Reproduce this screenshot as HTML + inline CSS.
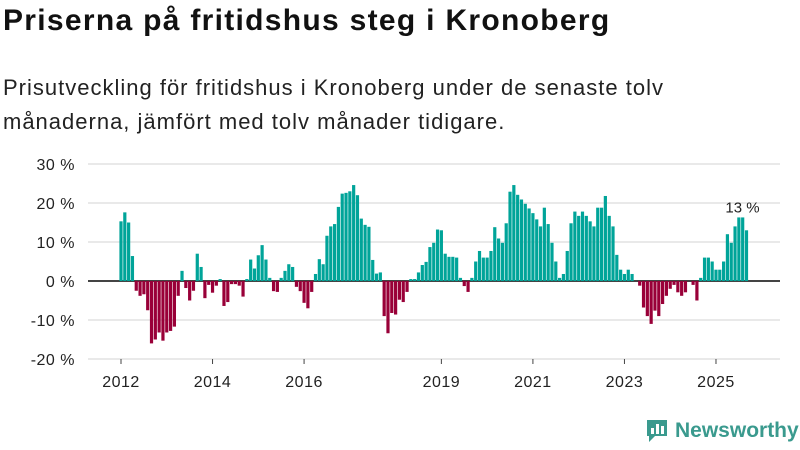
<!DOCTYPE html>
<html><head><meta charset="utf-8"><style>
body{margin:0;background:#fff;font-family:"Liberation Sans",sans-serif;}
#wrap{position:relative;width:800px;height:450px;overflow:hidden;}
h1{position:absolute;left:3px;top:4px;margin:0;font-size:30px;font-weight:bold;color:#111;letter-spacing:1.3px}
p{position:absolute;left:3px;top:71px;margin:0;font-size:22px;line-height:34px;color:#222;letter-spacing:1px}
</style></head><body>
<div id="wrap">
<h1>Priserna på fritidshus steg i Kronoberg</h1>
<p>Prisutveckling för fritidshus i Kronoberg under de senaste tolv<br>månaderna, jämfört med tolv månader tidigare.</p>
<svg id="chart" width="800" height="450" style="position:absolute;left:0;top:0"></svg>
<div style="position:absolute;left:645px;top:418px;display:flex;align-items:center;">
<svg width="24" height="26"><path d="M2 2h20v16h-12l-6 6v-6h-2z" fill="#3a9a8e"/><rect x="6" y="10" width="3" height="6" fill="#fff"/><rect x="11" y="6" width="3" height="10" fill="#fff"/><rect x="16" y="8" width="3" height="8" fill="#fff"/></svg>
<span style="font-size:21px;font-weight:bold;color:#3a9a8e;margin-left:6px">Newsworthy</span></div>
</div>
<script>
const values=[15.3,17.6,15,6.4,-2.5,-3.8,-3.4,-7.5,-16,-15,-13.2,-15.3,-13.2,-12.8,-11.7,-3.8,2.6,-1.8,-5,-2.5,7,3.6,-4.4,-1,-3,-1.2,0.5,-6.4,-5.4,-0.8,-0.8,-1.2,-4,0.5,5.5,3.2,6.6,9.2,5.5,0.8,-2.6,-2.8,0.8,2.6,4.3,3.6,-1.5,-2.6,-5.6,-7,-2.8,1.8,5.6,4.3,
11.6,14,14.6,19,22.4,22.6,23,24.6,22,16,14.4,13.9,5.4,1.9,2.2,-9,-13.4,-8.2,-8.6,-4.8,-5.4,-2.8,0.5,0.5,2.2,4.1,4.9,8.7,9.8,13.2,13,7,6.2,6.2,6,0.8,-1.3,-2.8,0.8,5,7.7,6,6,7.7,13.8,10.9,9.8,14.8,22.9,24.6,22.1,20.9,19.8,18.6,
17.4,15.8,14,18.8,14.6,9.8,5,0.8,1.8,7.7,14.8,17.8,16.7,17.8,16.7,15.3,14,18.8,18.8,21.8,16.7,14,6.7,2.9,1.8,2.9,1.8,0,-1.2,-6.8,-9,-11,-7.6,-9,-5.9,-3.8,-2,-1,-2.9,-3.8,-2.9,0,-1,-5,0.8,6,6,5,2.9,2.9,5,12,9.8,14,16.3,16.3,13];
const startYear=2012;
const yTicks=[30,20,10,0,-10,-20];
const xTickYears=[2012,2014,2016,2019,2021,2023,2025];
const lastLabel="13 %";
const NS="http://www.w3.org/2000/svg";
const svg=document.getElementById('chart');
const y=v=>281-v*3.9;
const x=i=>121+i*3.814;
function mk(t,a){const e=document.createElementNS(NS,t);for(const k in a)e.setAttribute(k,a[k]);svg.appendChild(e);return e;}
yTicks.forEach(t=>{
 const g=mk('line',{x1:88,x2:780,y1:y(t),y2:y(t),stroke:t===0?'#444':'#e2e2e2','stroke-width':t===0?2:1.5});
 
 
 const l=mk('text',{x:75,y:y(t)+6,'text-anchor':'end','font-size':16,fill:'#222','letter-spacing':0.5});
 l.textContent=t+' %';
 
 
});
values.forEach((v,i)=>{
 if(v===0)return;
 const r=mk('rect',{x:x(i)-1.6,width:3.2,y:Math.min(y(v),y(0)),height:Math.abs(y(v)-y(0)),fill:v>0?'#00a499':'#990038'});
 
 
});
xTickYears.forEach(yr=>{
 const xi=x((yr-startYear)*12);
 const tk=mk('line',{x1:xi,x2:xi,y1:359,y2:364,stroke:'#444','stroke-width':1});
 
 
 const t=mk('text',{x:xi,y:387,'text-anchor':'middle','font-size':16,fill:'#222','letter-spacing':0.5});
 t.textContent=yr;
 
 
});
const li=values.length-1;
const lab=mk('text',{x:x(li)-4,y:y(values[li])-18,'text-anchor':'middle','font-size':15,fill:'#222'});
lab.textContent=lastLabel;


</script>
</body></html>
